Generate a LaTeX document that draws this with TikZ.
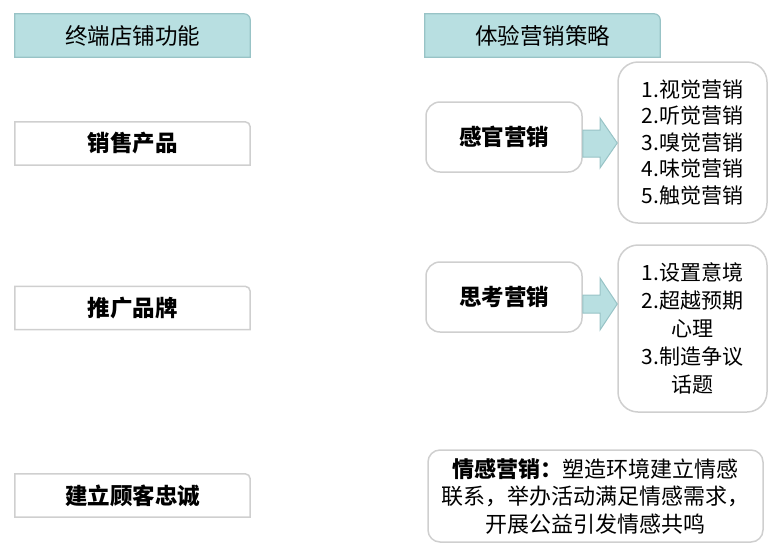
\documentclass[tikz,border=0pt]{standalone}
\usepackage{fontspec}
\setmainfont{Noto Sans CJK SC}
\usetikzlibrary{backgrounds}
\definecolor{tealfill}{HTML}{B8DFE1}
\definecolor{tealline}{HTML}{98C3C6}
\definecolor{boxline}{HTML}{CFCFCF}
\tikzset{
  hdr/.style={minimum width=235pt, minimum height=43pt, inner sep=0pt, font=\fontsize{22.5pt}{26pt}\selectfont},
  leftbox/.style={minimum width=235pt, minimum height=43pt, inner sep=0pt, font=\fontsize{22.5pt}{26pt}\selectfont\bfseries},
  midbox/.style={draw=boxline, line width=1.5pt, rounded corners=14pt, fill=white, minimum width=156pt, minimum height=70pt, inner sep=0pt, font=\fontsize{22.5pt}{26pt}\selectfont\bfseries},
  listbox/.style={draw=boxline, line width=1.5pt, rounded corners=20pt, fill=white, minimum width=149pt, inner sep=0pt, align=center},
  bigarrow/.style={fill=tealfill, draw=tealline, line width=1pt},
  hdrshape/.style={fill=tealfill, draw=tealline, line width=1.2pt},
  leftshape/.style={draw=boxline, line width=1.5pt},
}
\begin{document}
\begin{tikzpicture}[x=1pt,y=-1pt]
\useasboundingbox (0,0) rectangle (784,555);
% headers
\node[hdr] (h1) at (132.5,35.5) {终端店铺功能};
\node[hdr] (h2) at (542.5,35.5) {体验营销策略};
\begin{scope}[on background layer]
\foreach \b in {h1,h2}{
  \draw[hdrshape] (\b.south west) -- (\b.north west) [rounded corners=6pt] -- (\b.north east) [sharp corners] -- (\b.south east) -- cycle;
}
\end{scope}
% left boxes
\node[leftbox] (l1) at (132.5,143.5) {销售产品};
\node[leftbox] (l2) at (132.5,308) {推广品牌};
\node[leftbox] (l3) at (132.5,495.5) {建立顾客忠诚};
\foreach \b in {l1,l2,l3}{
  \draw[leftshape] (\b.south west) -- (\b.north west) [rounded corners=5pt] -- (\b.north east) [sharp corners] -- (\b.south east) -- cycle;
}
% middle boxes
\node[midbox] (m1) at (504,137) {感官营销};
\node[midbox] (m2) at (504,297) {思考营销};
% list boxes
\node[listbox, minimum height=161pt, font=\fontsize{21pt}{26.5pt}\selectfont] (r1) at (692.5,142.5) {1.视觉营销\\2.听觉营销\\3.嗅觉营销\\4.味觉营销\\5.触觉营销};
\node[listbox, minimum height=167pt, font=\fontsize{21pt}{28pt}\selectfont] (r2) at (692.5,328.5) {1.设置意境\\2.超越预期\\心理\\3.制造争议\\话题};
% arrows
\draw[bigarrow] (m1.east |- 0,130) -- (600,130) -- (600,118) -- (r1.west |- 0,143) -- (600,168) -- (600,157) -- (m1.east |- 0,157) -- cycle;
\draw[bigarrow] (m2.east |- 0,295) -- (600,295) -- (600,278) -- (r2.west |- 0,304) -- (600,330) -- (600,313) -- (m2.east |- 0,313) -- cycle;
% bottom box
\node[draw=boxline, line width=1.5pt, rounded corners=12pt, minimum width=335pt, minimum height=92pt, inner sep=0pt, align=center, font=\fontsize{22pt}{27.5pt}\selectfont] (b1) at (595.5,496) {\textbf{情感营销：}塑造环境建立情感\\联系，举办活动满足情感需求，\\开展公益引发情感共鸣};
\end{tikzpicture}
\end{document}
